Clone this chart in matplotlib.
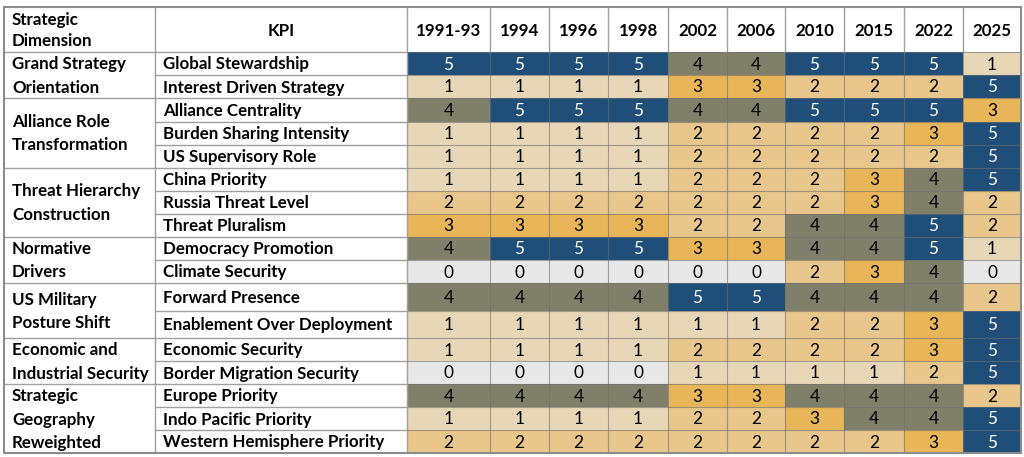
import matplotlib
matplotlib.use("Agg")
import matplotlib.pyplot as plt
from matplotlib.patches import Rectangle

# ---------------- data ----------------
years = ["1991-93", "1994", "1996", "1998", "2002", "2006", "2010", "2015", "2022", "2025"]

dimensions = [
    "Grand Strategy\nOrientation",
    "Alliance Role\nTransformation",
    "Threat Hierarchy\nConstruction",
    "Normative\nDrivers",
    "US Military\nPosture Shift",
    "Economic and\nIndustrial Security",
    "Strategic\nGeography\nReweighted",
]
dimension_sizes = [2, 3, 3, 2, 2, 2, 3]

kpis = [
    "Global Stewardship", "Interest Driven Strategy",
    "Alliance Centrality", "Burden Sharing Intensity", "US Supervisory Role",
    "China Priority", "Russia Threat Level", "Threat Pluralism",
    "Democracy Promotion", "Climate Security",
    "Forward Presence", "Enablement Over Deployment",
    "Economic Security", "Border Migration Security",
    "Europe Priority", "Indo Pacific Priority", "Western Hemisphere Priority",
]

scores = [
    [5, 5, 5, 5, 4, 4, 5, 5, 5, 1],
    [1, 1, 1, 1, 3, 3, 2, 2, 2, 5],
    [4, 5, 5, 5, 4, 4, 5, 5, 5, 3],
    [1, 1, 1, 1, 2, 2, 2, 2, 3, 5],
    [1, 1, 1, 1, 2, 2, 2, 2, 2, 5],
    [1, 1, 1, 1, 2, 2, 2, 3, 4, 5],
    [2, 2, 2, 2, 2, 2, 2, 3, 4, 2],
    [3, 3, 3, 3, 2, 2, 4, 4, 5, 2],
    [4, 5, 5, 5, 3, 3, 4, 4, 5, 1],
    [0, 0, 0, 0, 0, 0, 2, 3, 4, 0],
    [4, 4, 4, 4, 5, 5, 4, 4, 4, 2],
    [1, 1, 1, 1, 1, 1, 2, 2, 3, 5],
    [1, 1, 1, 1, 2, 2, 2, 2, 3, 5],
    [0, 0, 0, 0, 1, 1, 1, 1, 2, 5],
    [4, 4, 4, 4, 3, 3, 4, 4, 4, 2],
    [1, 1, 1, 1, 2, 2, 3, 4, 4, 5],
    [2, 2, 2, 2, 2, 2, 2, 2, 3, 5],
]

# ---------------- style ----------------
score_colors = {0: "#E8E8E8", 1: "#E8D7B7", 2: "#E8C68C", 3: "#E8B658",
                4: "#80806A", 5: "#1F4E79"}
text_colors = {0: "black", 1: "black", 2: "black", 3: "black", 4: "black", 5: "white"}

W, H = 1024, 457
col_edges = [4, 155, 407, 490, 549, 608, 668, 727, 785, 844, 904, 963, 1021]
top = 7
header_h = 45
row_h = [23, 23, 23.5, 23, 23, 23, 23, 23, 23.5, 23, 27.5, 27.5, 23, 23, 23, 23, 23]

FONT = ["Lato", "DejaVu Sans"]
fs_label = 12.2
fs_num = 12.4
dy = 1.0  # small downward shift for optical centering

fig = plt.figure(figsize=(W / 100, H / 100), dpi=100)
ax = fig.add_axes([0, 0, 1, 1])
ax.set_xlim(0, W)
ax.set_ylim(H, 0)
ax.axis("off")

# row edges
row_edges = [top, top + header_h]
for h in row_h:
    row_edges.append(row_edges[-1] + h)
bottom = row_edges[-1]

grid_c = "#A0A0A0"
cell_line = "#6E6E6E"

# data cells
for i, row in enumerate(scores):
    y0, y1 = row_edges[i + 1], row_edges[i + 2]
    for j, v in enumerate(row):
        x0, x1 = col_edges[j + 2], col_edges[j + 3]
        ax.add_patch(Rectangle((x0, y0), x1 - x0, y1 - y0, facecolor=score_colors[v],
                               edgecolor="none", zorder=1))
        ax.text((x0 + x1) / 2, (y0 + y1) / 2 + dy, str(v), ha="center", va="center",
                fontsize=fs_num, color=text_colors[v], family=FONT, zorder=3)

# horizontal lines in KPI + data region (every row)
for y in row_edges[1:-1]:
    ax.plot([col_edges[1], col_edges[2]], [y, y], color=grid_c, lw=1.0, zorder=2)
    ax.plot([col_edges[2], col_edges[-1]], [y, y], color=cell_line, lw=0.8, alpha=0.6, zorder=2)

# dimension groups
idx = 0
group_lines = []
for d, n in zip(dimensions, dimension_sizes):
    y0 = row_edges[idx + 1]
    y1 = row_edges[idx + 1 + n]
    ax.text(12, (y0 + y1) / 2 + dy, d, ha="left", va="center", fontsize=fs_label,
            fontweight="bold", family=FONT, linespacing=1.55, zorder=3)
    group_lines.append(y0)
    idx += n
for y in group_lines:
    ax.plot([col_edges[0], col_edges[1]], [y, y], color=grid_c, lw=1.0, zorder=2)

# vertical lines
for k, x in enumerate(col_edges[1:-1], start=1):
    if k <= 2:
        ax.plot([x, x], [top, bottom], color=grid_c, lw=1.0, zorder=2)
    else:
        ax.plot([x, x], [top, top + header_h], color=grid_c, lw=1.0, zorder=2)
        ax.plot([x, x], [top + header_h, bottom], color=cell_line, lw=0.8, alpha=0.6, zorder=2)

# outer border
ax.add_patch(Rectangle((col_edges[0], top), col_edges[-1] - col_edges[0], bottom - top,
                       facecolor="none", edgecolor="#8C8C8C", lw=1.5, zorder=4))

# KPI labels
for i, k in enumerate(kpis):
    y0, y1 = row_edges[i + 1], row_edges[i + 2]
    ax.text(163, (y0 + y1) / 2 + dy, k, ha="left", va="center", fontsize=fs_label,
            fontweight="bold", family=FONT, zorder=3)

# header
hy = top + header_h / 2 + dy
ax.text(12, hy, "Strategic\nDimension", ha="left", va="center", fontsize=fs_label,
        fontweight="bold", family=FONT, linespacing=1.45, zorder=3)
ax.text((col_edges[1] + col_edges[2]) / 2, hy, "KPI", ha="center", va="center",
        fontsize=fs_label, fontweight="bold", family=FONT, zorder=3)
for j, yr in enumerate(years):
    x0, x1 = col_edges[j + 2], col_edges[j + 3]
    ax.text((x0 + x1) / 2, hy, yr, ha="center", va="center", fontsize=fs_label,
            fontweight="bold", family=FONT, zorder=3)

fig.savefig("out.png", dpi=100, facecolor="white")
